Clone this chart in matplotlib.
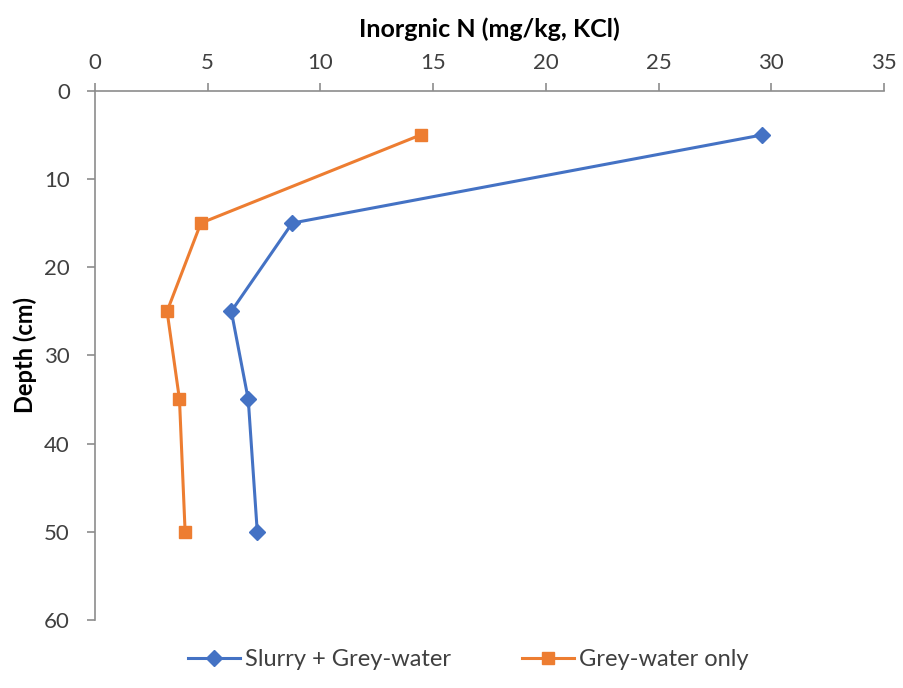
# depth profile of inorganic N
import matplotlib.pyplot as plt

plt.rcParams['font.family'] = ['Lato', 'DejaVu Sans']

depth = [5, 15, 25, 35, 50]
slurry_grey = [29.6, 8.75, 6.05, 6.8, 7.2]
grey_only = [14.45, 4.7, 3.2, 3.75, 4.0]

fig = plt.figure(figsize=(9.04, 6.88), dpi=100)
ax = fig.add_axes([0.105, 0.099, 0.873, 0.769])

ax.plot(slurry_grey, depth, color='#4472C4', lw=2.2, marker='D', ms=8,
        label='Slurry + Grey-water')
ax.plot(grey_only, depth, color='#ED7D31', lw=2.2, marker='s', ms=8,
        label='Grey-water only')

ax.set_xlim(0, 35)
ax.set_ylim(60, 0)
ax.set_xticks(range(0, 36, 5))
ax.set_yticks(range(0, 61, 10))
ax.xaxis.tick_top()
ax.xaxis.set_label_position('top')
ax.spines['right'].set_visible(False)
ax.spines['bottom'].set_visible(False)
for s in ['top', 'left']:
    ax.spines[s].set_color('#8c8c8c')
    ax.spines[s].set_linewidth(1.2)
ax.tick_params(axis='both', colors='#8c8c8c', labelcolor='#404040',
               labelsize=16, length=6, width=1.2)
ax.tick_params(axis='x', pad=7)
ax.tick_params(axis='y', pad=12)

ax.set_xlabel('Inorgnic N (mg/kg, KCl)', fontsize=18, fontweight='bold',
              labelpad=11)
ax.set_ylabel('Depth (cm)', fontsize=17, fontweight='bold', labelpad=5)

fig.legend(loc='lower center', bbox_to_anchor=(0.518, -0.005), ncol=2,
           frameon=False, fontsize=17, handlelength=2.2, handletextpad=0.2,
           columnspacing=3.0, labelcolor='#404040')

plt.savefig('out.png')
